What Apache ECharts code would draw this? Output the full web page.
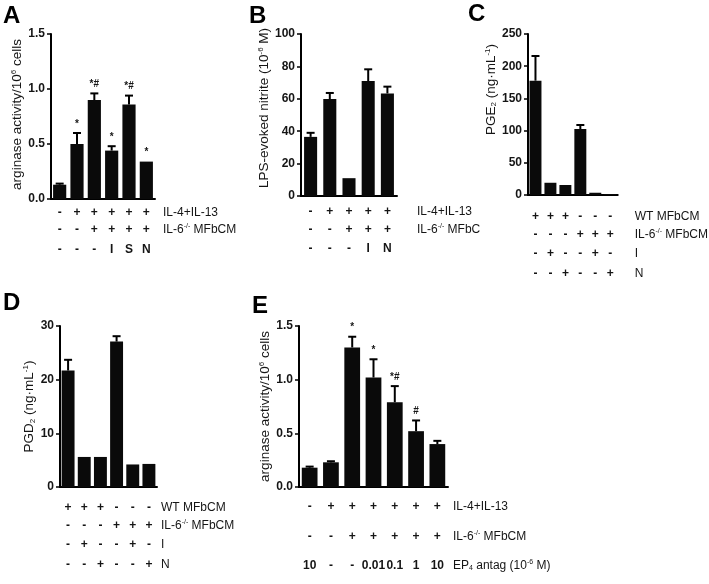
<!DOCTYPE html>
<html><head><meta charset="utf-8">
<script src="https://cdn.jsdelivr.net/npm/echarts@6/dist/echarts.min.js"></script>
<style>html,body{margin:0;padding:0;background:#fff}#c{width:709px;height:584px}</style>
</head><body><div id="c"></div>
<script>
// ---- Data ----
const aVals = [0.13, 0.50, 0.90, 0.44, 0.86, 0.34];
const aErr  = [0.14, 0.60, 0.96, 0.48, 0.94, 0.34];
const aNote = ['', '*', '*#', '*', '*#', '*'];
const aRow1 = ['-', '+', '+', '+', '+', '+'];
const aRow2 = ['-', '-', '+', '+', '+', '+'];
const aRow3 = ['-', '-', '-', 'I', 'S', 'N'];

const bVals = [36.5, 59.8, 11.0, 71.0, 63.3];
const bErr  = [39.0, 63.6, 11.0, 78.2, 67.5];
const bRow1 = ['-', '+', '+', '+', '+'];
const bRow2 = ['-', '-', '+', '+', '+'];
const bRow3 = ['-', '-', '-', 'I', 'N'];

const cVals = [177.5, 19, 15.5, 102.5, 3.5, 1.5];
const cErr  = [215.8, 19, 15.5, 108.7, 3.5, 1.5];
const cRow1 = ['+', '+', '+', '-', '-', '-'];
const cRow2 = ['-', '-', '-', '+', '+', '+'];
const cRow3 = ['-', '+', '-', '-', '+', '-'];
const cRow4 = ['-', '-', '+', '-', '-', '+'];

const dVals = [21.7, 5.6, 5.6, 27.1, 4.2, 4.3];
const dErr  = [23.7, 5.6, 5.6, 28.1, 4.2, 4.3];
const dRow1 = ['+', '+', '+', '-', '-', '-'];
const dRow2 = ['-', '-', '-', '+', '+', '+'];
const dRow3 = ['-', '+', '-', '-', '+', '-'];
const dRow4 = ['-', '-', '+', '-', '-', '+'];

const eVals = [0.18, 0.23, 1.30, 1.02, 0.79, 0.52, 0.40];
const eErr  = [0.19, 0.24, 1.40, 1.19, 0.94, 0.62, 0.43];
const eNote = ['', '', '*', '*', '*#', '#', ''];
const eRow1 = ['-', '+', '+', '+', '+', '+', '+'];
const eRow2 = ['-', '-', '+', '+', '+', '+', '+'];
const eRow3 = ['10', '-', '-', '0.01', '0.1', '1', '10'];

// ---- Chart build ----
const FONT = 'Liberation Sans, Arial, sans-serif';
const TXT = '#151515';
function mkRich(fs) {
  return {
    n: {fontSize: fs, color: TXT, fontFamily: FONT},
    sup: {fontSize: Math.round(fs * 0.62), color: TXT, fontFamily: FONT, padding: [0, 0, Math.round(fs * 0.55), 0]},
    sub: {fontSize: Math.round(fs * 0.62), color: TXT, fontFamily: FONT, padding: [Math.round(fs * 0.45), 0, 0, 0]}
  };
}
const rowRich = mkRich(12);
const yRich = mkRich(13.5);

const panels = [
  {letter:'A', lx:3, ly:4, grid:{left:51, top:34, width:104, height:165}, max:1.5, interval:0.5, dec:1,
   yname:'{n|arginase activity/10}{sup|6}{n| cells}', ygap:24, ypad:4, vals:aVals, err:aErr, note:aNote,
   rows:[[aRow1,'{n|IL-4+IL-13}'],[aRow2,'{n|IL-6}{sup|-/-}{n| MFbCM}'],[aRow3,'']], offs:[14,31,51], ngap:8, bw:'24%'},
  {letter:'B', lx:249, ly:4, grid:{left:301, top:34, width:96, height:162}, max:100, interval:20, dec:0,
   yname:'{n|LPS-evoked nitrite (10}{sup|-6}{n| M)}', ygap:25, ypad:14, vals:bVals, err:bErr, note:null,
   rows:[[bRow1,'{n|IL-4+IL-13}'],[bRow2,'{n|IL-6}{sup|-/-}{n| MFbC}'],[bRow3,'']], offs:[16,34,53], ngap:20, bw:'32%'},
  {letter:'C', lx:468, ly:2, grid:{left:528, top:34, width:98, height:161}, max:250, interval:50, dec:0,
   yname:'{n|PGE}{sub|2}{n| (ng·mL}{sup|-1}{n|)}', ygap:26, ypad:50, vals:cVals, err:cErr, note:null,
   rows:[[cRow1,'{n|WT MFbCM}'],[cRow2,'{n|IL-6}{sup|-/-}{n| MFbCM}'],[cRow3,'{n|I}'],[cRow4,'{n|N}']], offs:[22,40,59,79], ngap:17, bw:'20%'},
  {letter:'D', lx:3, ly:291, grid:{left:60, top:326, width:97, height:161}, max:30, interval:10, dec:0,
   yname:'{n|PGD}{sub|2}{n| (ng·mL}{sup|-1}{n|)}', ygap:20, ypad:0, vals:dVals, err:dErr, note:null,
   rows:[[dRow1,'{n|WT MFbCM}'],[dRow2,'{n|IL-6}{sup|-/-}{n| MFbCM}'],[dRow3,'{n|I}'],[dRow4,'{n|N}']], offs:[21,39,58,78], ngap:4, bw:'20%'},
  {letter:'E', lx:252, ly:294, grid:{left:299, top:326, width:149, height:161}, max:1.5, interval:0.5, dec:1,
   yname:'{n|arginase activity/10}{sup|6}{n| cells}', ygap:24, ypad:0, vals:eVals, err:eErr, note:eNote,
   rows:[[eRow1,'{n|IL-4+IL-13}'],[eRow2,'{n|IL-6}{sup|-/-}{n| MFbCM}'],[eRow3,'{n|EP}{sub|4}{n| antag (10}{sup|-6}{n| M)}']], offs:[20,50,79], ngap:5, bw:'26%'}
];

const option = {backgroundColor:'#fff', animation:false, grid:[], xAxis:[], yAxis:[], series:[], graphic:[]};

panels.forEach((p, pi) => {
  option.grid.push(p.grid);
  const cats = p.vals.map((_, i) => String(i + 1));
  const mainX = option.xAxis.length;
  option.xAxis.push({
    type:'category', gridIndex:pi, data:cats, position:'bottom',
    axisLine:{lineStyle:{color:'#000', width:2}},
    axisTick:{alignWithLabel:true, length:4, lineStyle:{color:'#000', width:1.5}},
    axisLabel:{show:false}
  });
  p.rows.forEach((r, ri) => {
    option.xAxis.push({
      type:'category', gridIndex:pi, data:r[0], position:'bottom', offset:p.offs[ri],
      axisLine:{show:false}, axisTick:{show:false}, splitLine:{show:false},
      axisLabel:{interval:0, margin:0, verticalAlign:'middle', fontSize:12, fontWeight:'bold', color:TXT, fontFamily:FONT},
      name:r[1], nameLocation:'end', nameGap:p.ngap,
      nameTextStyle:{rich:rowRich, align:'left', verticalAlign:'middle'}
    });
  });
  option.yAxis.push({
    type:'value', gridIndex:pi, min:0, max:p.max, interval:p.interval,
    axisLine:{show:true, lineStyle:{color:'#000', width:2}},
    axisTick:{show:true, length:4, lineStyle:{color:'#000', width:1.5}},
    splitLine:{show:false},
    axisLabel:{fontSize:12, fontWeight:'bold', color:TXT, fontFamily:FONT, margin:6,
      formatter: v => v.toFixed(p.dec)},
    name:p.yname, nameLocation:'middle', nameRotate:90, nameGap:p.ygap,
    nameTextStyle:{rich:yRich, padding:[0, 0, 0, p.ypad]}
  });
  option.series.push({
    type:'bar', xAxisIndex:mainX, yAxisIndex:pi, data:p.vals, barCategoryGap:p.bw,
    itemStyle:{color:'#0a0a0a'}, z:2
  });
  const notes = p.note;
  const errs = p.err;
  option.series.push({
    type:'custom', xAxisIndex:mainX, yAxisIndex:pi, z:3,
    data:p.vals.map((v, i) => [i, v, errs[i]]),
    renderItem:(params, api) => {
      const i = api.value(0), v = api.value(1), e = api.value(2);
      const p0 = api.coord([i, v]), p1 = api.coord([i, e]);
      const ch = [];
      if (e > v) {
        ch.push({type:'line', shape:{x1:p0[0], y1:p0[1], x2:p1[0], y2:p1[1]}, style:{stroke:'#000', lineWidth:2}});
        ch.push({type:'line', shape:{x1:p1[0]-4, y1:p1[1], x2:p1[0]+4, y2:p1[1]}, style:{stroke:'#000', lineWidth:2}});
      }
      const n = notes ? notes[params.dataIndex] : '';
      if (n) {
        ch.push({type:'text', style:{text:n, x:p1[0], y:p1[1]-4, align:'center', verticalAlign:'bottom',
          fontSize:10, fontWeight:'bold', fill:TXT, fontFamily:FONT}});
      }
      return {type:'group', children:ch};
    }
  });
  option.graphic.push({type:'text', left:p.lx, top:p.ly,
    style:{text:p.letter, fontSize:24, fontWeight:'bold', fill:'#000', fontFamily:FONT}});
});

const chart = echarts.init(document.getElementById('c'), null, {renderer:'canvas'});
chart.setOption(option);
</script>
</body></html>
